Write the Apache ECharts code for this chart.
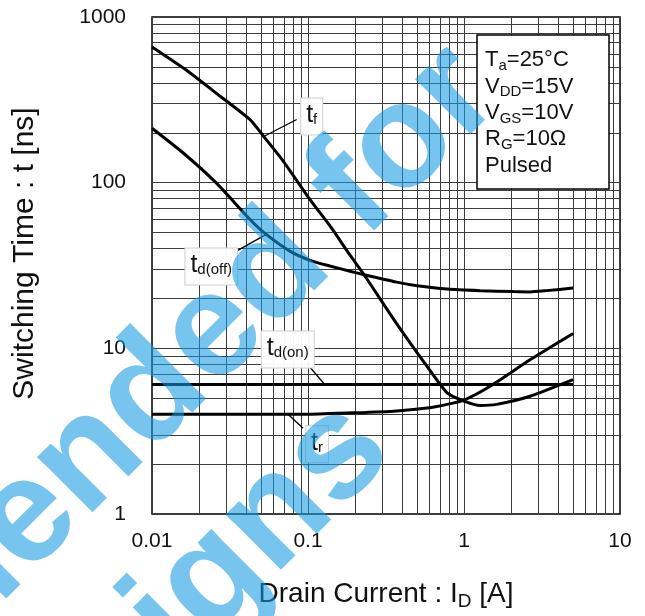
<!DOCTYPE html>
<html><head><meta charset="utf-8">
<script src="https://cdn.jsdelivr.net/npm/echarts@6/dist/echarts.min.js"></script>
<style>html,body{margin:0;padding:0;background:#fff}#c{width:645px;height:616px}</style>
</head><body><div id="c"></div>
<script>
// ---- data ----
const xTicks = [0.01, 0.1, 1, 10];
const yTicks = [1, 10, 100, 1000];

const tfX    = [0.01, 0.016, 0.026, 0.0425, 0.052, 0.069, 0.103, 0.138, 0.186, 0.226, 0.37, 0.6, 0.78, 1.0, 1.27, 1.62, 2.65, 5.0];
const tfY    = [660, 490, 345, 240, 190, 136, 79, 55, 36.5, 28.3, 14.1, 7.43, 5.38, 4.8, 4.52, 4.59, 5.14, 6.47];
const tdoffX = [0.01, 0.016, 0.026, 0.0425, 0.054, 0.077, 0.103, 0.138, 0.186, 0.226, 0.37, 0.5, 0.78, 1.27, 2.07, 2.65, 3.39, 5.0];
const tdoffY = [213, 150, 99, 60, 48.7, 38.5, 34.0, 31.4, 29.2, 27.9, 25.1, 23.9, 22.8, 22.3, 22.0, 21.9, 22.3, 23.1];
const tdonX  = [0.01, 5.0];
const tdonY  = [6.05, 6.05];
const trX    = [0.01, 0.1, 0.2, 0.37, 0.6, 0.78, 1.0, 1.47, 2.65, 5.0];
const trY    = [4.0, 4.0, 4.08, 4.19, 4.38, 4.59, 4.87, 5.9, 8.53, 12.3];

const conditionLines = [
  ['T', 'a', '=25°C'],
  ['V', 'DD', '=15V'],
  ['V', 'GS', '=10V'],
  ['R', 'G', '=10Ω'],
  ['Pulsed', '', '']
];
// curve labels: [main, subscript, anchor x, anchor y, leader dx, leader dy, box dx, box dy]
const curveLabels = [
  ['t', 'f',      0.052, 190, 33, -17, 48, -20],
  ['t', 'd(off)', 0.054, 48.7, -32, 18, -55, 32],
  ['t', 'd(on)',  0.128, 6.05, -18, -21, -37, -35],
  ['t', 'r',      0.0745, 4.0, 15, 14, 29, 30]
];
const watermarkLines = ['Not recommended for', 'new designs'];

// ---- chart ----
const FONT = 'Arial, "Liberation Sans", sans-serif';
const chart = echarts.init(document.getElementById('c'), null, {renderer: 'canvas'});
const pair = (xs, ys) => xs.map((x, i) => [x, ys[i]]);
const minorX = [], minorY = [];
xTicks.slice(0, -1).forEach(d => { for (let k = 2; k <= 9; k++) minorX.push(+(d * k).toPrecision(3)); });
yTicks.slice(0, -1).forEach(d => { for (let k = 2; k <= 9; k++) minorY.push(+(d * k).toPrecision(3)); });
const gridLine = {color: '#3c3c3c', width: 1, type: 'solid'};
const fmt = v => String(+(+v).toPrecision(3));

const curve = (name, d) => ({
  name, type: 'line', data: d, showSymbol: false, smooth: 0.2, z: 5,
  lineStyle: {color: '#000', width: 3}, silent: true
});

chart.setOption({
  animation: false,
  grid: {left: 152, top: 17, right: 25, bottom: 97, show: true, borderColor: '#000', borderWidth: 1.5},
  xAxis: {
    type: 'log', logBase: 10, min: 0.01, max: 10,
    axisLine: {show: false}, axisTick: {show: false},
    splitLine: {show: true, lineStyle: gridLine},
    axisLabel: {formatter: fmt, fontSize: 21, color: '#111', margin: 17, fontFamily: FONT},
    name: 'Drain Current : I{sub|D} [A]', nameLocation: 'middle', nameGap: 63,
    nameTextStyle: {fontSize: 28, color: '#111', fontFamily: FONT, lineHeight: 34,
      rich: {sub: {fontSize: 19, fontFamily: FONT, color: '#111', verticalAlign: 'bottom', lineHeight: 20}}}
  },
  yAxis: {
    type: 'log', logBase: 10, min: 1, max: 1000,
    axisLine: {show: false}, axisTick: {show: false},
    splitLine: {show: true, lineStyle: gridLine},
    axisLabel: {formatter: fmt, fontSize: 21, color: '#111', margin: 26, fontFamily: FONT},
    name: 'Switching Time : t [ns]', nameLocation: 'middle', nameGap: 112,
    nameTextStyle: {fontSize: 30, color: '#111', fontFamily: FONT, padding: [0, 0, 0, 24]}
  },
  series: [
    {type: 'line', data: [], z: 1, silent: true,
     markLine: {silent: true, symbol: ['none', 'none'], label: {show: false}, lineStyle: gridLine,
       emphasis: {disabled: true},
       data: minorX.map(v => ({xAxis: v})).concat(minorY.map(v => ({yAxis: v})))}},
    curve('tf', pair(tfX, tfY)),
    curve('tdoff', pair(tdoffX, tdoffY)),
    curve('tdon', pair(tdonX, tdonY)),
    curve('tr', pair(trX, trY))
  ]
});

// ---- annotations ----
const graphics = [];
const condText = conditionLines.map(l => '{m|' + l[0] + '}' + (l[1] ? '{s|' + l[1] + '}' : '') + (l[2] ? '{m|' + l[2] + '}' : '')).join('\n');
graphics.push({type: 'rect', shape: {x: 477, y: 35, width: 132, height: 154}, z: 50,
  style: {fill: '#fff', stroke: '#000', lineWidth: 1.5}});
graphics.push({type: 'text', x: 485, y: 47, z: 51, style: {text: condText, align: 'left', verticalAlign: 'top',
  rich: {m: {fontSize: 22, fontFamily: FONT, fill: '#111', lineHeight: 26.4},
         s: {fontSize: 15, fontFamily: FONT, fill: '#111', lineHeight: 9, verticalAlign: 'bottom'}}}});
curveLabels.forEach(c => {
  const p = chart.convertToPixel({gridIndex: 0}, [c[2], c[3]]);
  graphics.push({type: 'line', z: 40, shape: {x1: p[0], y1: p[1], x2: p[0] + c[4], y2: p[1] + c[5]},
    style: {stroke: '#000', lineWidth: 1.3}});
  graphics.push({type: 'text', z: 41, x: p[0] + c[6], y: p[1] + c[7], style: {
    text: '{m|' + c[0] + '}{s|' + c[1] + '}', align: 'center', verticalAlign: 'middle',
    backgroundColor: 'rgba(255,255,255,0.95)', borderColor: '#cfcfcf', borderWidth: 1, padding: [4, 5, 7, 5],
    rich: {m: {fontSize: 25, fontFamily: FONT, fill: '#111', lineHeight: 25},
           s: {fontSize: 15, fontFamily: FONT, fill: '#111', lineHeight: 8, verticalAlign: 'bottom'}}}});
});
const wmPos = [[475, 72], [367, 426]];
watermarkLines.forEach((t, i) => {
  graphics.push({type: 'text', z: 100, x: wmPos[i][0], y: wmPos[i][1], rotation: Math.PI / 4, silent: true,
    style: {text: t, align: 'right', verticalAlign: 'middle', fontSize: 148, fontWeight: 'bold', fontFamily: FONT,
      fill: 'rgba(20,155,225,0.58)'}});
});
chart.setOption({graphic: graphics});
</script></body></html>
